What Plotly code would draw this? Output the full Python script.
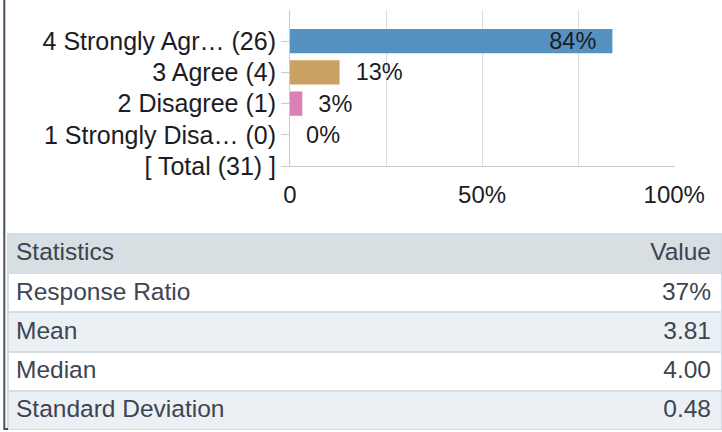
import plotly.graph_objects as go

# ---------------- data ----------------
categories = ["4 Strongly Agr\u2026 (26)", "3 Agree (4)", "2 Disagree (1)", "1 Strongly Disa\u2026 (0)"]
total_label = "[ Total (31) ]"
percentages = [83.9, 12.9, 3.2, 0.0]
pct_labels = ["84%", "13%", "3%", "0%"]
x_tick_values = [0, 25, 50, 75, 100]
x_tick_labels = ["0", "", "50%", "", "100%"]

stat_header = "Statistics"
value_header = "Value"
stat_names = ["Response Ratio", "Mean", "Median", "Standard Deviation"]
stat_values = ["37%", "3.81", "4.00", "0.48"]

# ---------------- styles ----------------
FONT = "Arial, Liberation Sans, sans-serif"
TXT = "#1c1c24"
TBL_TXT = "#3d4452"
NB = "\u00a0"
bar_colors = ["#5592c1", "#c9a264", "#da80b4", "#999999"]
text_positions = ["inside", "outside", "outside", "outside"]
text_templates = ["%{text}" + NB * 2, NB * 2 + "%{text}", NB * 2 + "%{text}", NB * 2 + "%{text}"]
row_fills = ["#ffffff", "#ebf0f4", "#ffffff", "#ebf0f4"]
SEP = "#d6dde2"
TBL_FONT = 24.5

W, H = 722, 432
ROW_H = 39.2
tbl_y = [1 - 430 / H, 1 - 234 / H]

fig = go.Figure()

fig.add_trace(go.Bar(
    x=percentages,
    y=categories,
    orientation="h",
    width=0.78,
    marker=dict(color=bar_colors, line=dict(width=0)),
    text=pct_labels,
    texttemplate=text_templates,
    textposition=text_positions,
    insidetextanchor="end",
    constraintext="none",
    textfont=dict(family=FONT, size=23.5, color=TXT),
    insidetextfont=dict(family=FONT, size=23.5, color=TXT),
    outsidetextfont=dict(family=FONT, size=23.5, color=TXT),
    cliponaxis=False,
    hoverinfo="skip",
))

# background table: fills, row separators and statistic names
fig.add_trace(go.Table(
    domain=dict(x=[8 / W, 1.0], y=tbl_y),
    header=dict(
        values=[stat_header],
        fill_color="#d7dfe3",
        align="left",
        font=dict(family=FONT, size=TBL_FONT, color=TBL_TXT),
        height=ROW_H,
        line=dict(color=SEP, width=2),
    ),
    cells=dict(
        values=[stat_names],
        fill_color=[row_fills],
        align="left",
        font=dict(family=FONT, size=TBL_FONT, color=TBL_TXT),
        height=ROW_H,
        line=dict(color=SEP, width=2),
    ),
))

# overlay table: right-aligned values
fig.add_trace(go.Table(
    domain=dict(x=[8 / W, 719 / W], y=tbl_y),
    header=dict(
        values=[value_header],
        fill_color="rgba(0,0,0,0)",
        align="right",
        font=dict(family=FONT, size=TBL_FONT, color=TBL_TXT),
        height=ROW_H,
        line=dict(width=0, color="rgba(0,0,0,0)"),
    ),
    cells=dict(
        values=[stat_values],
        fill_color="rgba(0,0,0,0)",
        align="right",
        font=dict(family=FONT, size=TBL_FONT, color=TBL_TXT),
        height=ROW_H,
        line=dict(width=0, color="rgba(0,0,0,0)"),
    ),
))

fig.update_layout(
    width=W, height=H,
    margin=dict(l=0, r=0, t=0, b=0, autoexpand=False),
    paper_bgcolor="white",
    plot_bgcolor="white",
    showlegend=False,
    xaxis=dict(
        domain=[290 / W, 675 / W],
        range=[0, 100.2],
        tickvals=x_tick_values,
        ticktext=x_tick_labels,
        showgrid=True, gridcolor="#dcdcdc", gridwidth=1,
        showline=True, linecolor="#cbcbcb", linewidth=1,
        zeroline=False,
        ticks="outside", ticklen=7, tickcolor="rgba(0,0,0,0)",
        tickfont=dict(family=FONT, size=24, color=TXT),
        automargin=False,
        fixedrange=True,
    ),
    yaxis=dict(
        domain=[1 - 166 / H, 1 - 10 / H],
        type="category",
        categoryorder="array",
        categoryarray=categories + [total_label],
        tickvals=categories + [total_label],
        range=[4, -1],
        showgrid=False,
        showline=True, linecolor="#cbcbcb", linewidth=1,
        zeroline=False,
        ticks="outside", ticklen=8, tickcolor="#cbcbcb",
        tickfont=dict(family=FONT, size=25, color=TXT),
        automargin=False,
        fixedrange=True,
    ),
    shapes=[dict(type="path", xref="paper", yref="paper",
                 path=f"M {4.3 / W},1 L {4.3 / W},{1 - 429 / H} L {8 / W},{1 - 429 / H}",
                 line=dict(color="#4a5363", width=2))],
)

fig.write_html(
    "out.html",
    config={"displayModeBar": False, "staticPlot": True},
    post_script="document.body.style.margin='0px';document.body.style.overflow='hidden';",
)
